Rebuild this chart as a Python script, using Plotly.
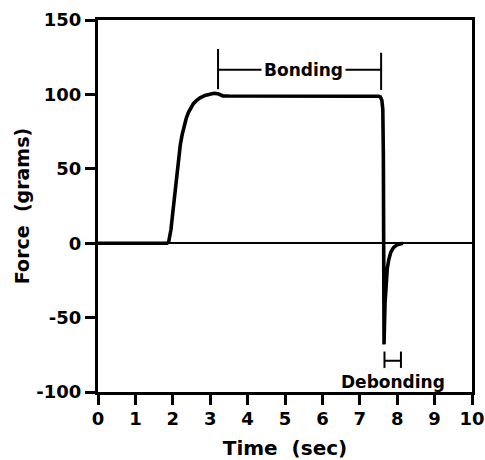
import plotly.graph_objects as go

# ---- data ----
time_s = [0.0, 1.0, 1.85, 1.89, 1.92, 1.95, 1.98, 2.02, 2.06, 2.10, 2.15, 2.20,
          2.25, 2.30, 2.36, 2.42, 2.48, 2.55, 2.63, 2.73, 2.86, 2.99, 3.10, 3.21,
          3.28, 3.34, 3.50, 4.0, 5.0, 6.0, 7.0, 7.50,
          7.55, 7.59, 7.615, 7.630, 7.636, 7.642, 7.648, 7.660, 7.675, 7.700,
          7.735, 7.775, 7.830, 7.900, 8.000, 8.150]
force_g = [0.0, 0.0, 0.0, 1.0, 4.0, 9.0, 16.0, 26.0, 36.6, 47.0, 57.0, 66.0,
           73.0, 79.0, 84.0, 88.0, 91.2, 93.8, 95.8, 97.7, 99.3, 100.4, 100.7, 100.4,
           99.5, 99.0, 98.9, 98.8, 98.8, 98.8, 98.8, 98.8,
           98.3, 96.0, 90.0, 60.0, 0.0, -50.0, -68.0, -55.0, -40.0, -27.0,
           -17.0, -11.0, -6.0, -3.0, -1.0, 0.0]

x_ticks = [0, 1, 2, 3, 4, 5, 6, 7, 8, 9, 10]
x_tick_labels = ["0", "1", "2", "3", "4", "5", "6", "7", "8", "9", "10"]
y_ticks = [-100, -50, 0, 50, 100, 150]
y_tick_labels = ["-100", "-50", "0", "50", "100", "150"]

# annotation brackets (data units)
bonding_span = [3.21, 7.57]
bonding_bar_left = [103.5, 130.5]
bonding_bar_right = [103.0, 128.0]
bonding_level = 116.5
debonding_span = [7.66, 8.10]
debonding_bar = [-83.8, -72.8]
debonding_level = -79.0
debonding_label_y = -93.0

FONT = "DejaVu Sans"

fig = go.Figure()
fig.add_trace(go.Scatter(
    x=time_s, y=force_g, mode="lines",
    line=dict(color="black", width=3.6),
    hoverinfo="skip", showlegend=False,
))

shapes = []
lw = 2
shapes.append(dict(type="line", x0=bonding_span[0], x1=bonding_span[0],
                   y0=bonding_bar_left[0], y1=bonding_bar_left[1],
                   line=dict(color="black", width=lw)))
shapes.append(dict(type="line", x0=bonding_span[1], x1=bonding_span[1],
                   y0=bonding_bar_right[0], y1=bonding_bar_right[1],
                   line=dict(color="black", width=lw)))
shapes.append(dict(type="line", x0=bonding_span[0], x1=bonding_span[1],
                   y0=bonding_level, y1=bonding_level,
                   line=dict(color="black", width=lw)))
for xv in debonding_span:
    shapes.append(dict(type="line", x0=xv, x1=xv,
                       y0=debonding_bar[0], y1=debonding_bar[1],
                       line=dict(color="black", width=lw)))
shapes.append(dict(type="line", x0=debonding_span[0], x1=debonding_span[1],
                   y0=debonding_level, y1=debonding_level,
                   line=dict(color="black", width=lw)))

annotations = [
    dict(x=(bonding_span[0] + bonding_span[1]) / 2 + 0.1, y=bonding_level,
         text="Bonding", showarrow=False, bgcolor="white",
         font=dict(family=FONT, size=17, color="black", weight="bold"),
         borderpad=2),
    dict(x=(debonding_span[0] + debonding_span[1]) / 2, y=debonding_label_y,
         text="Debonding", showarrow=False,
         font=dict(family=FONT, size=17, color="black", weight="bold")),
]

axis_font = dict(family=FONT, size=18, color="black", weight="bold")
title_font = dict(family=FONT, size=19, color="black", weight="bold")

fig.update_layout(
    width=485, height=460,
    margin=dict(l=98, r=13, t=20, b=68, autoexpand=False),
    plot_bgcolor="white", paper_bgcolor="white",
    shapes=shapes, annotations=annotations,
    xaxis=dict(
        range=[0, 10], tickvals=x_ticks, ticktext=x_tick_labels,
        ticks="outside", ticklen=10, tickwidth=3, tickcolor="black",
        showline=True, linewidth=3, linecolor="black", mirror=True,
        showgrid=False, zeroline=False, tickfont=axis_font,
        automargin=False, ticklabelstandoff=-2,
        title=dict(text="Time\u00a0 (sec)", font=dict(family=FONT, size=20, color="black", weight="bold"), standoff=22),
    ),
    yaxis=dict(
        range=[-100, 150], tickvals=y_ticks, ticktext=y_tick_labels,
        ticks="outside", ticklen=10, tickwidth=3, tickcolor="black",
        showline=True, linewidth=3, linecolor="black", mirror=True,
        showgrid=False, zeroline=True, zerolinecolor="black", zerolinewidth=2,
        tickfont=axis_font, automargin=False,
        title=dict(text="Force\u00a0 (grams)", font=title_font, standoff=2),
    ),
)

fig.write_html("out.html")
